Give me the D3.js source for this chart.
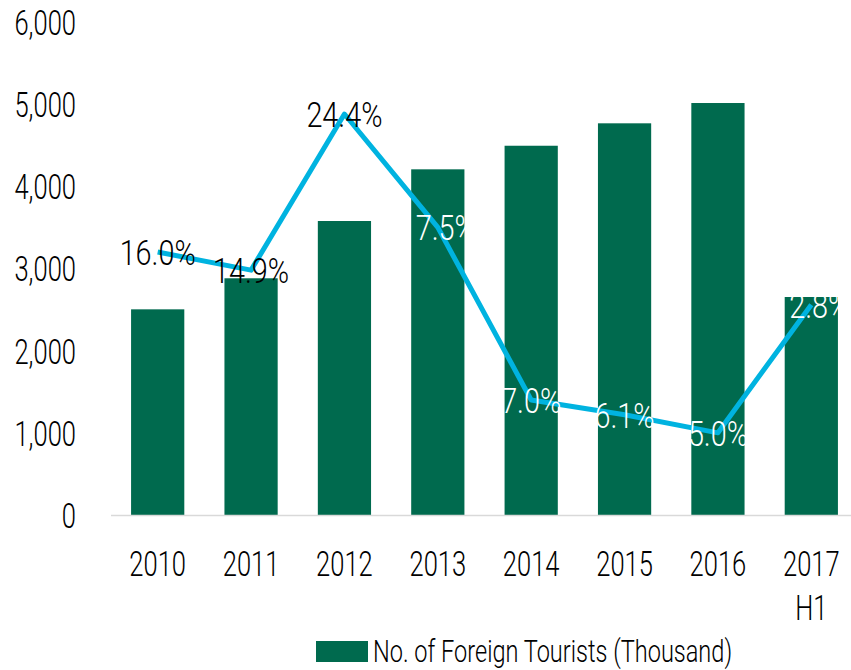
<!DOCTYPE html>
<html>
<head>
<meta charset="utf-8">
<script src="https://cdn.jsdelivr.net/npm/d3@7"></script>
<style>
  body { margin: 0; background: #fff; }
  text { font-family: Roboto, "Liberation Sans", sans-serif; font-weight: 300; }
</style>
</head>
<body>
<svg id="chart" width="851" height="670"></svg>
<script>
// chart values
var years = ["2010", "2011", "2012", "2013", "2014", "2015", "2016", "2017 H1"];
var tourists = [2503, 2881, 3578, 4207, 4494, 4767, 5014, 2653];   // thousand
var growth = [16.0, 14.9, 24.4, 17.5, 7.0, 6.1, 5.0, 12.8];          // % yoy
var yTicks = [0, 1000, 2000, 3000, 4000, 5000, 6000];
var legendLabel = "No. of Foreign Tourists (Thousand)";

var barColour = "#006a4e",
    lineColour = "#00b3e0";
var narrow = 0.71;   // the original face is a very condensed one

var svg = d3.select("#chart");

var x = d3.scaleBand()
    .domain(years)
    .range([111, 858])
    .paddingInner(0.43)
    .paddingOuter(0.215);

var y = d3.scaleLinear().domain([0, 6000]).range([515, 22]);
// growth line sits on a hidden secondary axis
var y2 = d3.scaleLinear().domain([0, 30]).range([515, 22]);

function squeeze(sel, fx, fy, k) {
    sel.attr("transform", function(d, i) {
        return "translate(" + fx(d, i) + "," + fy(d, i) + ") scale(" + (k || narrow) + ",1)";
    });
}

// y axis labels
var yAxis = svg.append("g").selectAll("text.ytick")
    .data(yTicks)
    .enter().append("text").classed("ytick", true)
    .attr("text-anchor", "end")
    .attr("dy", "0.36em")
    .style("font-size", "36px")
    .attr("fill", "#000")
    .text(d3.format(","));
squeeze(yAxis, function() { return 76; }, function(d) { return y(d); });

// bars
svg.append("g").selectAll("rect.bar")
    .data(tourists)
    .enter().append("rect").classed("bar", true)
    .attr("x", function(d, i) { return x(years[i]); })
    .attr("width", x.bandwidth())
    .attr("y", function(d) { return y(d); })
    .attr("height", function(d) { return y(0) - y(d); })
    .attr("fill", barColour);

// baseline
svg.append("line")
    .attr("x1", 111).attr("x2", 851)
    .attr("y1", y(0) + 0.5).attr("y2", y(0) + 0.5)
    .attr("stroke", "#d9d9d9")
    .attr("stroke-width", 1.5);

// x labels (split "2017 H1" on two lines)
var xl = svg.append("g").selectAll("g.xtick")
    .data(years)
    .enter().append("g").classed("xtick", true)
    .attr("transform", function(d) { return "translate(" + (x(d) + x.bandwidth() / 2) + ",576)"; });
xl.each(function(d) {
    var parts = d.split(" ");
    d3.select(this).selectAll("text")
        .data(parts)
        .enter().append("text")
        .attr("text-anchor", "middle")
        .attr("transform", function(p, j) { return "translate(0," + (j * 44) + ") scale(" + narrow + ",1)"; })
        .style("font-size", "36px")
        .attr("fill", "#000")
        .text(function(p) { return p; });
});

// growth line
var cx = function(d, i) { return x(years[i]) + x.bandwidth() / 2; };
var line = d3.line()
    .x(cx)
    .y(function(d) { return y2(d); });

svg.append("path")
    .datum(growth)
    .attr("d", line)
    .attr("fill", "none")
    .attr("stroke", lineColour)
    .attr("stroke-width", 5)
    .attr("stroke-linejoin", "round");

// data labels, centred on the points; white ones vanish where they leave the bar
var labels = svg.append("g").selectAll("text.dl")
    .data(growth)
    .enter().append("text").classed("dl", true)
    .attr("text-anchor", "middle")
    .attr("dy", "0.36em")
    .style("font-size", "36px")
    .attr("fill", function(d, i) { return i < 3 ? "#000" : "#fff"; })
    .text(function(d) { return d.toFixed(1) + "%"; });
squeeze(labels, cx, function(d) { return y2(d); }, 0.8);

// legend
svg.append("rect")
    .attr("x", 316).attr("y", 641)
    .attr("width", 52).attr("height", 21)
    .attr("fill", barColour);
svg.append("text")
    .attr("transform", "translate(373,662) scale(0.76,1)")
    .style("font-size", "31px")
    .attr("fill", "#000")
    .text(legendLabel);
</script>
</body>
</html>
